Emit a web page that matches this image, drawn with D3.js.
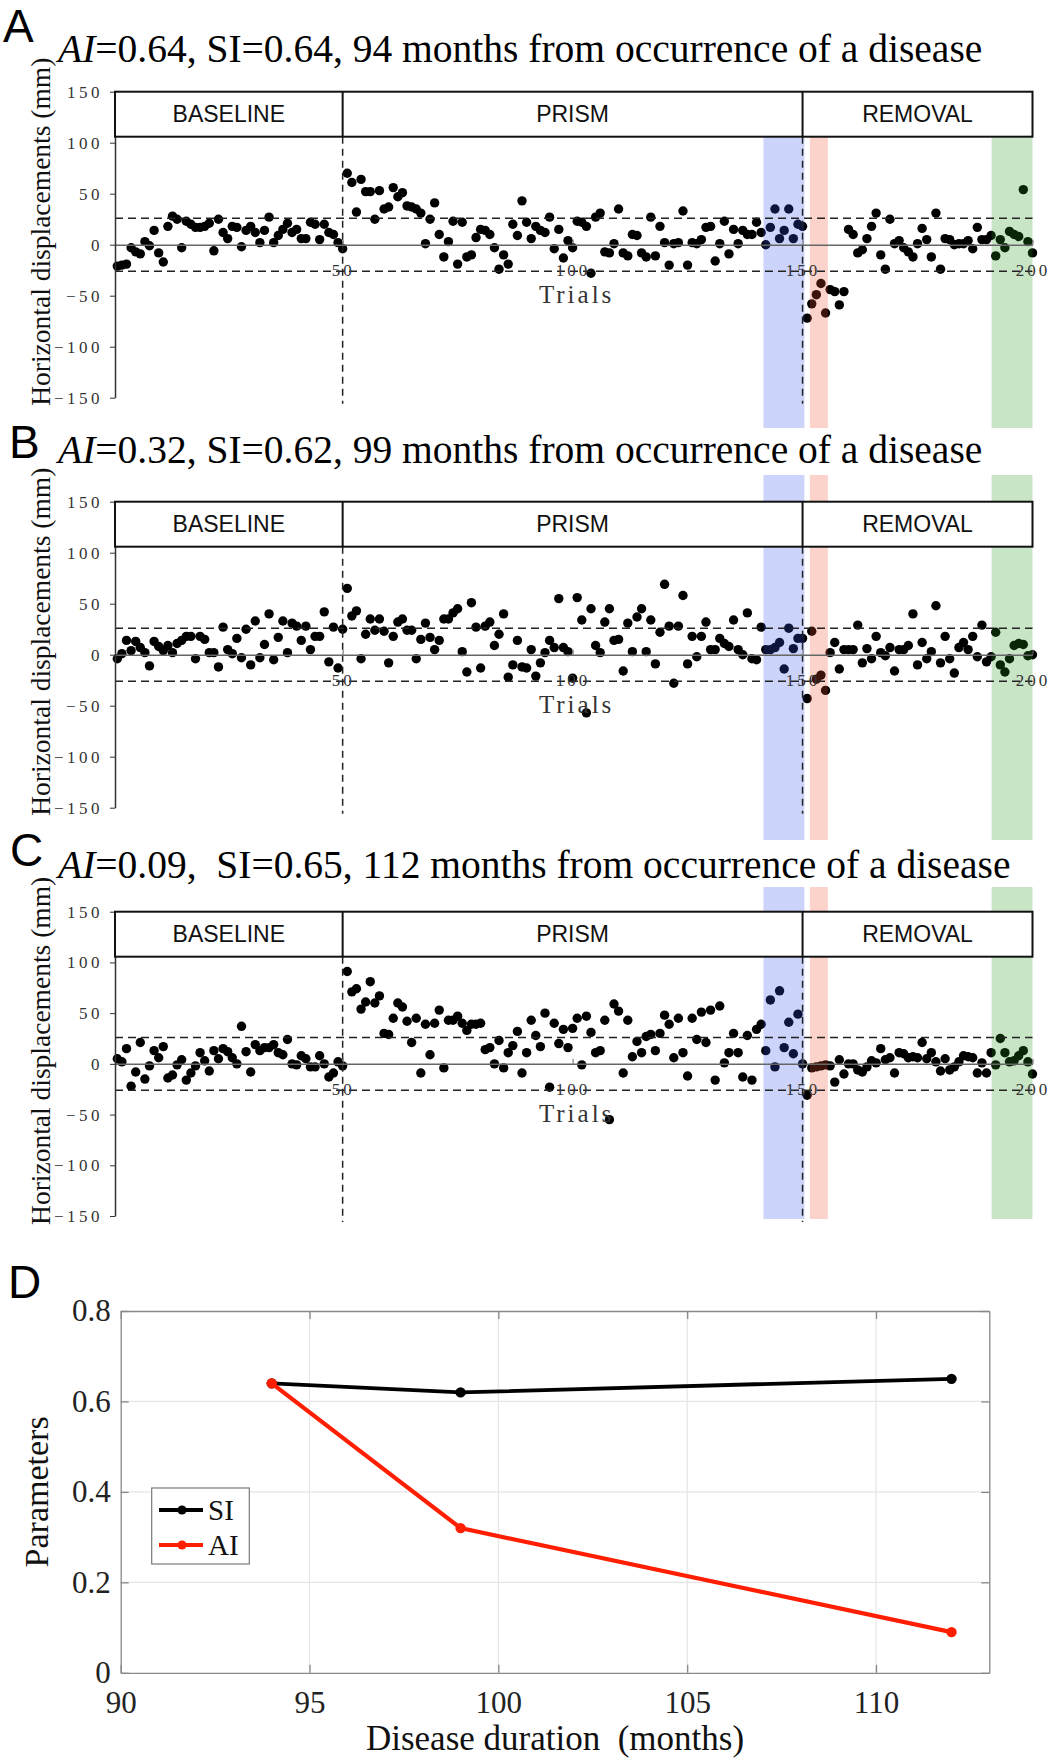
<!DOCTYPE html>
<meta charset="utf-8">

<!-- Load d3.js -->
<script src="https://d3js.org/d3.v7.min.js"></script>

<style>
  body { margin: 0; background: #fff; }
  svg { display: block; }
</style>

<!-- Create a div where the graph will take place -->
<div id="my_dataviz"></div>

<script>

// ---- data ----
// horizontal displacement (mm) per trial, split by phase
var aBaseline = [-21, -20, -19, -3, -7, -9, 3, -1, 14, -8,
  -17, 18, 28, 25, -3, 23, 20, 17, 17, 18,
  21, -6, 25, 12, 6, 18, 17, -2, 14, 18,
  12, 2, 14, 27, 2, 9, 15, 21, 12, 15,
  6, 6, 22, 20, 5, 20, 12, 10, 2, -4]
var aPrism = [70, 61, 32, 64, 52, 52, 25, 53, 35, 37,
  56, 47, 51, 38, 37, 35, 31, 1, 25, 41,
  10, -12, 3, 23, -19, 22, -12, -10, 7, 15,
  14, 10, -3, -24, -10, -19, 20, 9, 43, 22,
  6, 18, 14, 12, 27, -4, 15, -13, 4, -3,
  23, 22, 18, -28, 27, 31, -7, -8, 1, 35,
  -8, -11, 10, 9, -8, -12, 27, -11, 18, 2,
  -20, 1, 2, 33, -20, 2, 1, 5, 17, 18,
  -16, 1, 23, -9, 15, 1, 14, 10, 10, 22,
  12, 0, 17, 35, 6, 14, 35, 6, 20, 18]
var aRemoval = [-72, -58, -49, -38, -67, -44, -46, -59, -46, 15,
  10, -8, -5, 6, 18, 31, -10, -24, 25, 1,
  4, -3, -7, -12, 1, 16, 5, -12, 31, -24,
  6, 5, 0, 1, 1, 4, -4, 17, 5, 5,
  9, -11, 5, -3, 13, 10, 8, 54, 3, -8]

var bBaseline = [-4, 1, 14, 4, 13, 7, 2, -11, 13, 8,
  4, 9, 2, 11, 14, 18, 18, -4, 18, 15,
  2, 2, -12, 27, 5, 1, 16, -3, 25, -10,
  33, -3, 10, 40, -5, 17, 33, 2, 31, 28,
  14, 28, 5, 18, 18, 42, -7, 27, -13, 25]
var bPrism = [65, 38, 43, -4, 20, 35, 24, 35, 23, -8,
  18, 32, 35, 24, 24, -4, 15, 31, 17, 5,
  14, 35, 35, 41, 45, 3, -17, 51, 27, -13,
  28, 32, 9, 20, 40, -22, -10, 14, -12,
  -13, 5, -21, -8, 2, 14, 7, 55, 7, 3,
  -23, 56, 34, -57, 45, 9, 2, 32, 45, 14,
  15, -16, 31, 3, 37, 45, 3, 34, -9, 22,
  69, 28, -28, 28, 58, -9, 18, -2, 18, 32,
  5, 5, 16, 11, 8, 34, 5, 0, 41, -4,
  -5, 27, 5, 5, 7, 12, -14, 26, 6, 16, 16]
var bRemoval = [-43, 23, -24, -20, -35, 2, 12, -14, 5, 5,
  5, 29, -8, 6, -4, 18, 2, -1, 7, -16,
  5, 5, 9, 40, -10, 12, -4, 3, 48, -8,
  18, -4, -18, 7, 12, 5, 18, -2, 29, -7,
  -2, 22, -10, -17, -4, 9, 11, 10, -1, 0]

var cBaseline = [5, 2, 15, -22, -8, 21, -15, -2, 13, 6,
  17, -14, -11, -1, 4, -16, -9, -2, 11, 3,
  -7, 13, 5, 15, 12, 6, 0, 37, 12, -8,
  19, 13, 16, 16, 19, 11, 9, 24, 0, -1,
  8, 5, -3, -3, 8, 0, -13, -9, 2, -2]
var cPrism = [91, 71, 74, 54, 61, 81, 60, 67, 30, 29,
  45, 60, 56, 42, 21, 45, -9, 39, 9, 40,
  53, -4, 43, 43, 47, 40, 33, 39, 39, 40,
  14, 16, 0, 23, -4, 11, 18, 32, -9,
  11, 43, 28, 17, 50, -23, 40, 20, 34, 16,
  35, 45, -1, 47, 31, 11, 13, 43, -55, 59,
  52, -9, 43, 7, 22, 11, 27, 29, 13, 30,
  48, 39, 6, 45, 11, -12, 45, 24, 51, 21,
  53, -16, 57, 1, 11, 30, 11, -13, 28, -16,
  34, 39, 13, 63, -3, 72, 16, 41, 10, 49, 0]
var cRemoval = [-31, -4, -3, -2, -1, -2, -18, 4, -10, 0,
  0, -6, -8, -3, 3, 1, 15, 4, 6, -9,
  11, 10, 6, 7, 6, 21, 5, 11, 2, -7,
  5, -6, -3, 2, 8, 7, 6, -9, 1, -9,
  11, -1, 25, 11, 2, 3, 8, 13, 2, -10]

var titleTexts = [
  "=0.64, SI=0.64, 94 months from occurrence of a disease",
  "=0.32, SI=0.62, 99 months from occurrence of a disease",
  "=0.09,  SI=0.65, 112 months from occurrence of a disease"
]
var phaseNames = ["BASELINE", "PRISM", "REMOVAL"]
var phaseBounds = [0.5, 50, 150, 200]
var trialTicks = [50, 100, 150, 200]
var dispTicks = [-150, -100, -50, 0, 50, 100, 150]
var tolerance = [-26, 26]
var bandRanges = [[141.5, 150.4], [151.6, 155.5], [191.1, 200]]

// panel D
var months = [94, 99, 112]
var siValues = [0.64, 0.62, 0.65]
var aiValues = [0.64, 0.32, 0.09]
var monthTicks = [90, 95, 100, 105, 110]
var paramTicks = [0, 0.2, 0.4, 0.6, 0.8]

// ---- drawing ----
var width = 1062
    height = 1763
var serif = "'Liberation Serif', 'Times New Roman', serif"
var sans = "'Liberation Sans', Arial, sans-serif"
var bandColors = ["#3353ef", "#ee502a", "#239b1b"]

var svg = d3.select("#my_dataviz")
  .append("svg")
    .attr("width", width)
    .attr("height", height)

svg.append("rect").attr("width", width).attr("height", height).style("fill", "#fff")

// trial axis is shared by the three scatter panels
var x = d3.scaleLinear().domain([0.5, 200]).range([115, 1032.5])

var panels = [
  {letter: "A", title: titleTexts[0], values: aBaseline.concat(aPrism, aRemoval),
   top: 91.7, bottom: 397.7, titleY: 62, letterX: 3, letterY: 42, shadeTop: 91.7, shadeBottom: 428},
  {letter: "B", title: titleTexts[1], values: bBaseline.concat(bPrism, bRemoval),
   top: 501.7, bottom: 807.7, titleY: 463, letterX: 9, letterY: 458, shadeTop: 475, shadeBottom: 840},
  {letter: "C", title: titleTexts[2], values: cBaseline.concat(cPrism, cRemoval),
   top: 911.7, bottom: 1216, titleY: 878, letterX: 10, letterY: 866, shadeTop: 887, shadeBottom: 1219}
]

panels.forEach(function(p) {
  var y = d3.scaleLinear().domain([-150, 150]).range([p.bottom, p.top])
  var g = svg.append("g")
  var headerH = 45

  // dots
  g.append("g").selectAll("circle")
    .data(p.values)
    .enter()
    .append("circle")
      .attr("cx", function(d, i) { return x(i + 1) })
      .attr("cy", function(d) { return y(d) })
      .attr("r", 4.7)
      .style("fill", "#000")

  // coloured bands, drawn over the dots
  g.append("g").selectAll("rect")
    .data(bandRanges)
    .enter()
    .append("rect")
      .attr("x", function(d) { return x(d[0]) })
      .attr("width", function(d) { return x(d[1]) - x(d[0]) })
      .attr("y", p.shadeTop)
      .attr("height", p.shadeBottom - p.shadeTop)
      .style("fill", function(d, i) { return bandColors[i] })
      .style("opacity", 0.25)

  // tolerance dashed lines
  g.selectAll("line.tol")
    .data(tolerance)
    .enter()
    .append("line")
      .attr("x1", x(0.5)).attr("x2", x(200))
      .attr("y1", function(d) { return y(d) })
      .attr("y2", function(d) { return y(d) })
      .style("stroke", "#222")
      .style("stroke-width", 1.5)
      .style("stroke-dasharray", "8,5")

  // phase separators
  g.selectAll("line.sep")
    .data(phaseBounds.slice(1, 3))
    .enter()
    .append("line")
      .attr("x1", function(d) { return x(d) })
      .attr("x2", function(d) { return x(d) })
      .attr("y1", p.top + headerH)
      .attr("y2", p.bottom + 6)
      .style("stroke", "#222")
      .style("stroke-width", 1.5)
      .style("stroke-dasharray", "7,5")

  // zero line with trial ticks
  var xAxis = g.append("g")
    .attr("transform", "translate(0," + y(0) + ")")
    .call(d3.axisBottom(x).tickValues(trialTicks).tickSizeInner(-5).tickSizeOuter(0).tickPadding(19))
  xAxis.select(".domain").style("stroke", "#666").style("stroke-width", 1.5)
  xAxis.selectAll(".tick line").style("stroke", "#666")
  xAxis.selectAll("text")
    .style("font-family", serif).style("font-size", "17px")
    .style("letter-spacing", "3px").style("fill", "#333")

  g.append("text")
    .attr("x", x(100) + 4)
    .attr("y", y(0) + 58)
    .attr("text-anchor", "middle")
    .text("Trials")
    .style("font-family", serif).style("font-size", "25px")
    .style("letter-spacing", "3px").style("fill", "#333")

  // y axis
  var yAxis = g.append("g")
    .attr("transform", "translate(" + x(0.5) + ",0)")
    .call(d3.axisLeft(y).tickValues(dispTicks).tickSize(5).tickSizeOuter(0).tickPadding(7))
  yAxis.select(".domain").style("stroke", "#333").style("stroke-width", 1.5)
  yAxis.selectAll(".tick line").style("stroke", "#333")
  yAxis.selectAll("text")
    .style("font-family", serif).style("font-size", "17px")
    .style("letter-spacing", "3.5px").style("fill", "#333")

  g.append("text")
    .attr("transform", "translate(50," + ((p.top + p.bottom) / 2 - 13) + ") rotate(-90)")
    .attr("text-anchor", "middle")
    .text("Horizontal displacements (mm)")
    .style("font-family", serif).style("font-size", "27.5px").style("fill", "#111")

  // phase header box
  g.append("rect")
    .attr("x", x(0.5)).attr("y", p.top)
    .attr("width", x(200) - x(0.5)).attr("height", headerH)
    .style("fill", "#fff").style("stroke", "#111").style("stroke-width", 2)
  g.selectAll("line.hdr")
    .data(phaseBounds.slice(1, 3))
    .enter()
    .append("line")
      .attr("x1", function(d) { return x(d) })
      .attr("x2", function(d) { return x(d) })
      .attr("y1", p.top).attr("y2", p.top + headerH)
      .style("stroke", "#111").style("stroke-width", 2)
  g.selectAll("text.hdr")
    .data(phaseNames)
    .enter()
    .append("text")
      .attr("x", function(d, i) { return (x(phaseBounds[i]) + x(phaseBounds[i + 1])) / 2 })
      .attr("y", p.top + headerH / 2 + 8)
      .attr("text-anchor", "middle")
      .text(function(d) { return d })
      .style("font-family", sans).style("font-size", "23px").style("fill", "#111")

  // panel letter and title
  g.append("text")
    .attr("x", p.letterX).attr("y", p.letterY)
    .text(p.letter)
    .style("font-family", sans).style("font-size", "46px").style("fill", "#000")
  var t = g.append("text")
    .attr("x", 58).attr("y", p.titleY)
    .style("font-family", serif).style("font-size", "39.5px").style("fill", "#000")
    .style("white-space", "pre")
  t.append("tspan").style("font-style", "italic").text("AI")
  t.append("tspan").text(p.title)
})

// ---- panel D ----
var xd = d3.scaleLinear().domain([90, 113]).range([120.7, 989.3])
var yd = d3.scaleLinear().domain([0, 0.8]).range([1672.8, 1311])
var gd = svg.append("g")

// grid
gd.selectAll("line.vg")
  .data(monthTicks.slice(1))
  .enter()
  .append("line")
    .attr("x1", function(d) { return xd(d) }).attr("x2", function(d) { return xd(d) })
    .attr("y1", yd(0)).attr("y2", yd(0.8))
    .style("stroke", "#e6e6e6").style("stroke-width", 1.2)
gd.selectAll("line.hg")
  .data(paramTicks.slice(1, 4))
  .enter()
  .append("line")
    .attr("x1", xd(90)).attr("x2", xd(113))
    .attr("y1", function(d) { return yd(d) }).attr("y2", function(d) { return yd(d) })
    .style("stroke", "#e6e6e6").style("stroke-width", 1.2)

// axes with inner ticks on all four sides
var axB = gd.append("g").attr("transform", "translate(0," + yd(0) + ")")
  .call(d3.axisBottom(xd).tickValues(monthTicks).tickSizeInner(-8).tickSizeOuter(0).tickPadding(18))
var axT = gd.append("g").attr("transform", "translate(0," + yd(0.8) + ")")
  .call(d3.axisTop(xd).tickValues(monthTicks).tickSizeInner(-8).tickSizeOuter(0).tickFormat(""))
var axL = gd.append("g").attr("transform", "translate(" + xd(90) + ",0)")
  .call(d3.axisLeft(yd).tickValues(paramTicks).tickSizeInner(-8).tickSizeOuter(0).tickPadding(10)
    .tickFormat(function(d) { return d === 0 ? "0" : d.toFixed(1) }))
var axR = gd.append("g").attr("transform", "translate(" + xd(113) + ",0)")
  .call(d3.axisRight(yd).tickValues(paramTicks).tickSizeInner(-8).tickSizeOuter(0).tickFormat(""))

;[axB, axT, axL, axR].forEach(function(a) {
  a.select(".domain").style("stroke", "#888").style("stroke-width", 1.3)
  a.selectAll(".tick line").style("stroke", "#888").style("stroke-width", 1.3)
  a.selectAll("text").style("font-family", serif).style("font-size", "31px").style("fill", "#222")
})

gd.append("text")
  .attr("x", (xd(90) + xd(113)) / 2)
  .attr("y", 1750)
  .attr("text-anchor", "middle")
  .style("white-space", "pre")
  .text("Disease duration  (months)")
  .style("font-family", serif).style("font-size", "35px").style("fill", "#111")

gd.append("text")
  .attr("transform", "translate(48," + (yd(0.4)) + ") rotate(-90)")
  .attr("text-anchor", "middle")
  .text("Parameters")
  .style("font-family", serif).style("font-size", "34px").style("fill", "#111")

gd.append("text")
  .attr("x", 8).attr("y", 1298)
  .text("D")
  .style("font-family", sans).style("font-size", "46px").style("fill", "#000")

// lines
var series = [
  {name: "SI", values: siValues, color: "#000", width: 3.8},
  {name: "AI", values: aiValues, color: "#ff1f00", width: 4.2}
]
var line = d3.line()
  .x(function(d, i) { return xd(months[i]) })
  .y(function(d) { return yd(d) })

series.forEach(function(s) {
  gd.append("path")
    .datum(s.values)
    .attr("d", line)
    .style("fill", "none")
    .style("stroke", s.color)
    .style("stroke-width", s.width)
  gd.selectAll("circle." + s.name)
    .data(s.values)
    .enter()
    .append("circle")
      .attr("cx", function(d, i) { return xd(months[i]) })
      .attr("cy", function(d) { return yd(d) })
      .attr("r", 5.2)
      .style("fill", s.color)
})

// legend
var lg = gd.append("g")
lg.append("rect")
  .attr("x", 151.7).attr("y", 1488).attr("width", 97.6).attr("height", 76)
  .style("fill", "#fff").style("stroke", "#7a7a7a").style("stroke-width", 1.2)
series.forEach(function(s, i) {
  var ly = 1510 + i * 35
  lg.append("line")
    .attr("x1", 159).attr("x2", 203).attr("y1", ly).attr("y2", ly)
    .style("stroke", s.color).style("stroke-width", s.width)
  lg.append("circle").attr("cx", 182).attr("cy", ly).attr("r", 4.6).style("fill", s.color)
  lg.append("text")
    .attr("x", 208).attr("y", ly + 10)
    .text(s.name)
    .style("font-family", serif).style("font-size", "29px").style("fill", "#111")
})

</script>
